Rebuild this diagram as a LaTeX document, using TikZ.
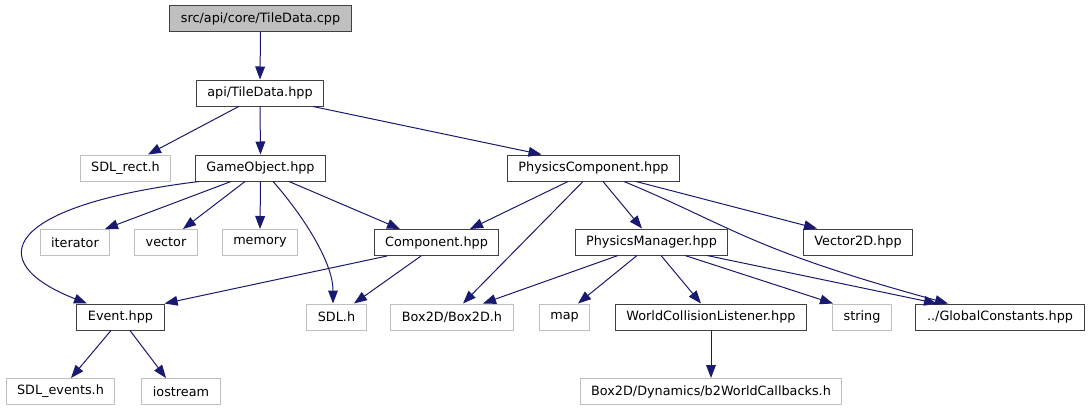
\documentclass[tikz,border=0pt]{standalone}
\usepackage{fontspec}
\setmainfont{DejaVu Sans}
\usetikzlibrary{arrows.meta,calc}
\definecolor{EdgeClr}{rgb}{0.09803921568627451,0.09803921568627451,0.4392156862745098}
\definecolor{SysClr}{rgb}{0.75,0.75,0.75}
\definecolor{FileClr}{rgb}{0.25,0.25,0.25}

\begin{document}
\begin{tikzpicture}[x=0.75pt,y=-0.75pt,
  file/.style={draw=FileClr,line width=0.75pt,minimum height=19.5pt,inner xsep=8.3pt,inner ysep=0pt,
    font=\fontsize{9.6}{11}\selectfont},
  sys/.style={file,draw=SysClr},
  root/.style={file,fill=SysClr},
  dep/.style={EdgeClr,line width=0.75pt,-{Triangle[length=9.75pt,width=7.3pt]}}]
\useasboundingbox (0,0) rectangle (1091,411);

\node[root] (cpp) at (260.5,18.5) {src/api/core/TileData.cpp};
\node[file] (tiledata) at (260,93) {api/TileData.hpp};

\node[sys] (sdlrect) at (125.5,168) {SDL\_rect.h};
\node[file] (gameobj) at (260.5,168) {GameObject.hpp};
\node[file] (physcomp) at (593.5,168) {PhysicsComponent.hpp};

\node[sys] (iterator) at (75,242.5) {iterator};
\node[sys] (vector) at (166,242.5) {vector};
\node[sys] (memory) at (260,242.5) {memory};
\node[file] (component) at (436.5,242.5) {Component.hpp};
\node[file] (physmgr) at (651.5,242) {PhysicsManager.hpp};
\node[file] (vectortwod) at (858,242) {Vector2D.hpp};

\node[file] (event) at (120.5,317) {Event.hpp};
\node[sys] (sdlh) at (336.5,317) {SDL.h};
\node[sys] (boxtwod) at (452,317) {Box2D/Box2D.h};
\node[sys] (map) at (564.5,317) {map};
\node[file] (worldcoll) at (711,317) {WorldCollisionListener.hpp};
\node[sys] (string) at (862,317) {string};
\node[file] (globalc) at (1000,317) {../GlobalConstants.hpp};

\node[sys] (sdlevents) at (60.5,391.5) {SDL\_events.h};
\node[sys] (iostream) at (181,391.5) {iostream};
\node[sys] (callbacks) at (711,391.5) {Box2D/Dynamics/b2WorldCallbacks.h};

\draw[dep] (cpp.south) -- (tiledata.north);

\draw[dep] ($(tiledata.south)+(-21.3,0)$) -- ($(sdlrect.north)+(22.5,0)$);
\draw[dep] (tiledata.south) -- (gameobj.north);
\draw[dep] ($(tiledata.south)+(53,0)$) -- ($(physcomp.north)+(-52,0)$);

\draw[dep] ($(gameobj.south)+(-61.5,0)$) .. controls +(-194,24) and +(-107,-42) .. ($(event.north)+(-33.5,0)$);
\draw[dep] ($(gameobj.south)+(-29.5,0)$) -- ($(iterator.north)+(30,0)$);
\draw[dep] ($(gameobj.south)+(-15.5,0)$) -- ($(vector.north)+(17,0)$);
\draw[dep] (gameobj.south) -- (memory.north);
\draw[dep] ($(gameobj.south)+(12.5,0)$) .. controls +(25,28) and +(0,-44) .. ($(sdlh.north)+(-3.5,0)$);
\draw[dep] ($(gameobj.south)+(28.5,0)$) -- ($(component.north)+(-36.5,0)$);

\draw[dep] ($(physcomp.south)+(-25.5,0)$) -- ($(component.north)+(33.5,0)$);
\draw[dep] ($(physcomp.south)+(-10.5,0)$) -- ($(boxtwod.north)+(11,0)$);
\draw[dep] ($(physcomp.south)+(9.5,0)$) -- ($(physmgr.north)+(-9.5,0)$);
\draw[dep] ($(physcomp.south)+(30.5,0)$) .. controls +(106,44) and +(-198,-54) .. ($(globalc.north)+(-52,0)$);
\draw[dep] ($(physcomp.south)+(42.5,0)$) -- ($(vectortwod.north)+(-41,0)$);

\draw[dep] ($(component.south)+(-49.5,0)$) -- (event.north east);
\draw[dep] ($(component.south)+(-15.5,0)$) -- ($(sdlh.north)+(17.5,0)$);

\draw[dep] ($(physmgr.south)+(-33.5,0)$) -- ($(boxtwod.north)+(31,0)$);
\draw[dep] ($(physmgr.south)+(-14.5,0)$) -- ($(map.north)+(13.5,0)$);
\draw[dep] ($(physmgr.south)+(9.5,0)$) -- ($(worldcoll.north)+(-10,0)$);
\draw[dep] ($(physmgr.south)+(33.5,0)$) -- ($(string.north)+(-29,0)$);
\draw[dep] ($(physmgr.south)+(55.5,0)$) -- ($(globalc.north)+(-63,0)$);

\draw[dep] ($(event.south)+(-9.5,0)$) -- ($(sdlevents.north)+(10.5,0)$);
\draw[dep] ($(event.south)+(9.5,0)$) -- ($(iostream.north)+(-15,0)$);

\draw[dep] (worldcoll.south) -- (callbacks.north);

\end{tikzpicture}
\end{document}
